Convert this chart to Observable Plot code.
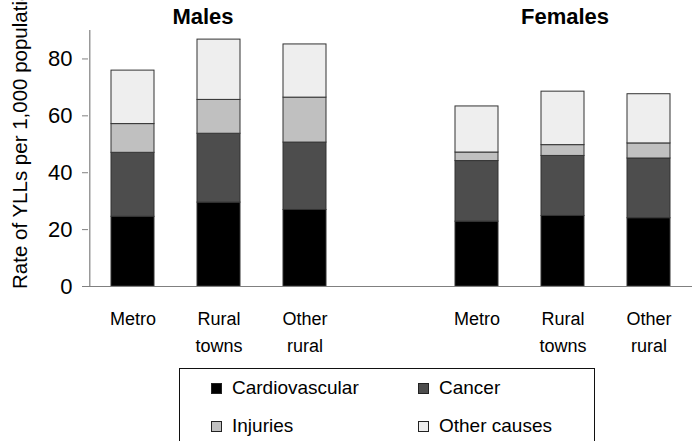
<!DOCTYPE html>
<html>
<head>
<meta charset="utf-8">
<script src="https://cdn.jsdelivr.net/npm/d3@7"></script>
<script src="https://cdn.jsdelivr.net/npm/@observablehq/plot@0.6"></script>
<style>
  html, body { margin: 0; padding: 0; background: #fff; width: 695px; height: 441px; overflow: hidden; }
  body { position: relative; font-family: "Liberation Sans", Arial, sans-serif; }
  #chart svg { display: block; }
  #legend {
    position: absolute; left: 179px; top: 368px; width: 416px; height: 120px;
    border: 1px solid #111; box-sizing: border-box; background: #fff;
  }
  .item { position: absolute; display: flex; align-items: center; font-size: 19px; color: #000; white-space: nowrap; }
  .sw { width: 9px; height: 9px; border: 1px solid #222; margin-right: 10px; box-sizing: content-box; }
</style>
</head>
<body>
<div id="chart"></div>
<div id="legend"></div>
<script>
// ---- data ----
const groups = ["Males", "Females"];
const areas = ["Metro", "Rural towns", "Other rural"];
const areaLabels = ["Metro", "Rural\ntowns", "Other\nrural"];
const causes = ["Cardiovascular", "Cancer", "Injuries", "Other causes"];
const causeColors = ["#000000", "#4d4d4d", "#c0c0c0", "#eeeeee"];
// values ordered: Males Metro, Males Rural towns, Males Other rural, Females Metro, Females Rural towns, Females Other rural
const cardiovascular = [24.5, 29.5, 26.9, 22.8, 24.8, 24.0];
const cancer         = [22.5, 24.2, 23.7, 21.3, 21.1, 21.0];
const injuries       = [10.1, 11.9, 15.8,  3.0,  3.8,  5.3];
const otherCauses    = [18.8, 21.2, 18.7, 16.2, 18.8, 17.3];
const yTicks = [0, 20, 40, 60, 80];

// ---- build table ----
const seriesByCause = [cardiovascular, cancer, injuries, otherCauses];
const keys = [];
groups.forEach(g => areas.forEach(a => keys.push(g + "|" + a)));
const domain = [keys[0], keys[1], keys[2], "gap", keys[3], keys[4], keys[5]];
const labelOf = {};
groups.forEach(g => areas.forEach((a, i) => labelOf[g + "|" + a] = areaLabels[i]));
labelOf["gap"] = "";

const rows = [];
causes.forEach((c, ci) => {
  keys.forEach((k, ki) => rows.push({key: k, cause: c, value: seriesByCause[ci][ki]}));
});

const font = '"Liberation Sans", Arial, sans-serif';

const chart = Plot.plot({
  width: 695,
  height: 360,
  marginLeft: 88,
  marginRight: 3,
  marginTop: 30,
  marginBottom: 74,
  style: {fontFamily: font, background: "#fff", color: "#000", overflow: "visible"},
  x: {domain, paddingInner: 0.5, paddingOuter: 0.25, label: null},
  y: {domain: [0, 90], label: null},
  color: {domain: causes, range: causeColors},
  marks: [
    Plot.barY(rows, {x: "key", y: "value", fill: "cause", order: causes, stroke: "#333", strokeWidth: 1}),
    Plot.ruleY([0], {stroke: "#808080", strokeWidth: 1.2}),
    Plot.axisY({ticks: yTicks, tickSize: 6, tickPadding: 10, fontSize: 22, stroke: "#808080", label: null}),
    Plot.ruleX([0], {x: () => domain[0], dx: -43.2, y1: 0, y2: 90, stroke: "#808080", strokeWidth: 1.2}),
    Plot.axisX({tickSize: 0, tickPadding: 19, fontSize: 18, lineHeight: 1.5, tickFormat: d => labelOf[d], label: null}),
    Plot.text([groups[0]], {x: () => keys[1], text: d => d, frameAnchor: "top", lineAnchor: "bottom", dy: -7, dx: -16, fontSize: 22, fontWeight: "bold"}),
    Plot.text([groups[1]], {x: () => keys[4], text: d => d, frameAnchor: "top", lineAnchor: "bottom", dy: -7, dx: 2, fontSize: 22, fontWeight: "bold"})
  ]
});

d3.select(chart).append("text")
  .attr("transform", "translate(27,289) rotate(-90)")
  .attr("text-anchor", "start")
  .attr("font-size", 20.5)
  .attr("font-family", font)
  .attr("fill", "#000")
  .text("Rate of YLLs per 1,000 population");

document.getElementById("chart").appendChild(chart);

// ---- legend ----
const legend = document.getElementById("legend");
const pos = [[31, 19], [238, 19], [31, 57], [238, 57]];
causes.forEach((c, i) => {
  const it = document.createElement("div");
  it.className = "item";
  it.style.left = pos[i][0] + "px";
  it.style.top = (pos[i][1] - 12) + "px";
  it.style.height = "24px";
  const sw = document.createElement("span");
  sw.className = "sw";
  sw.style.background = causeColors[i];
  const tx = document.createElement("span");
  tx.textContent = c;
  it.appendChild(sw);
  it.appendChild(tx);
  legend.appendChild(it);
});
</script>
</body>
</html>
